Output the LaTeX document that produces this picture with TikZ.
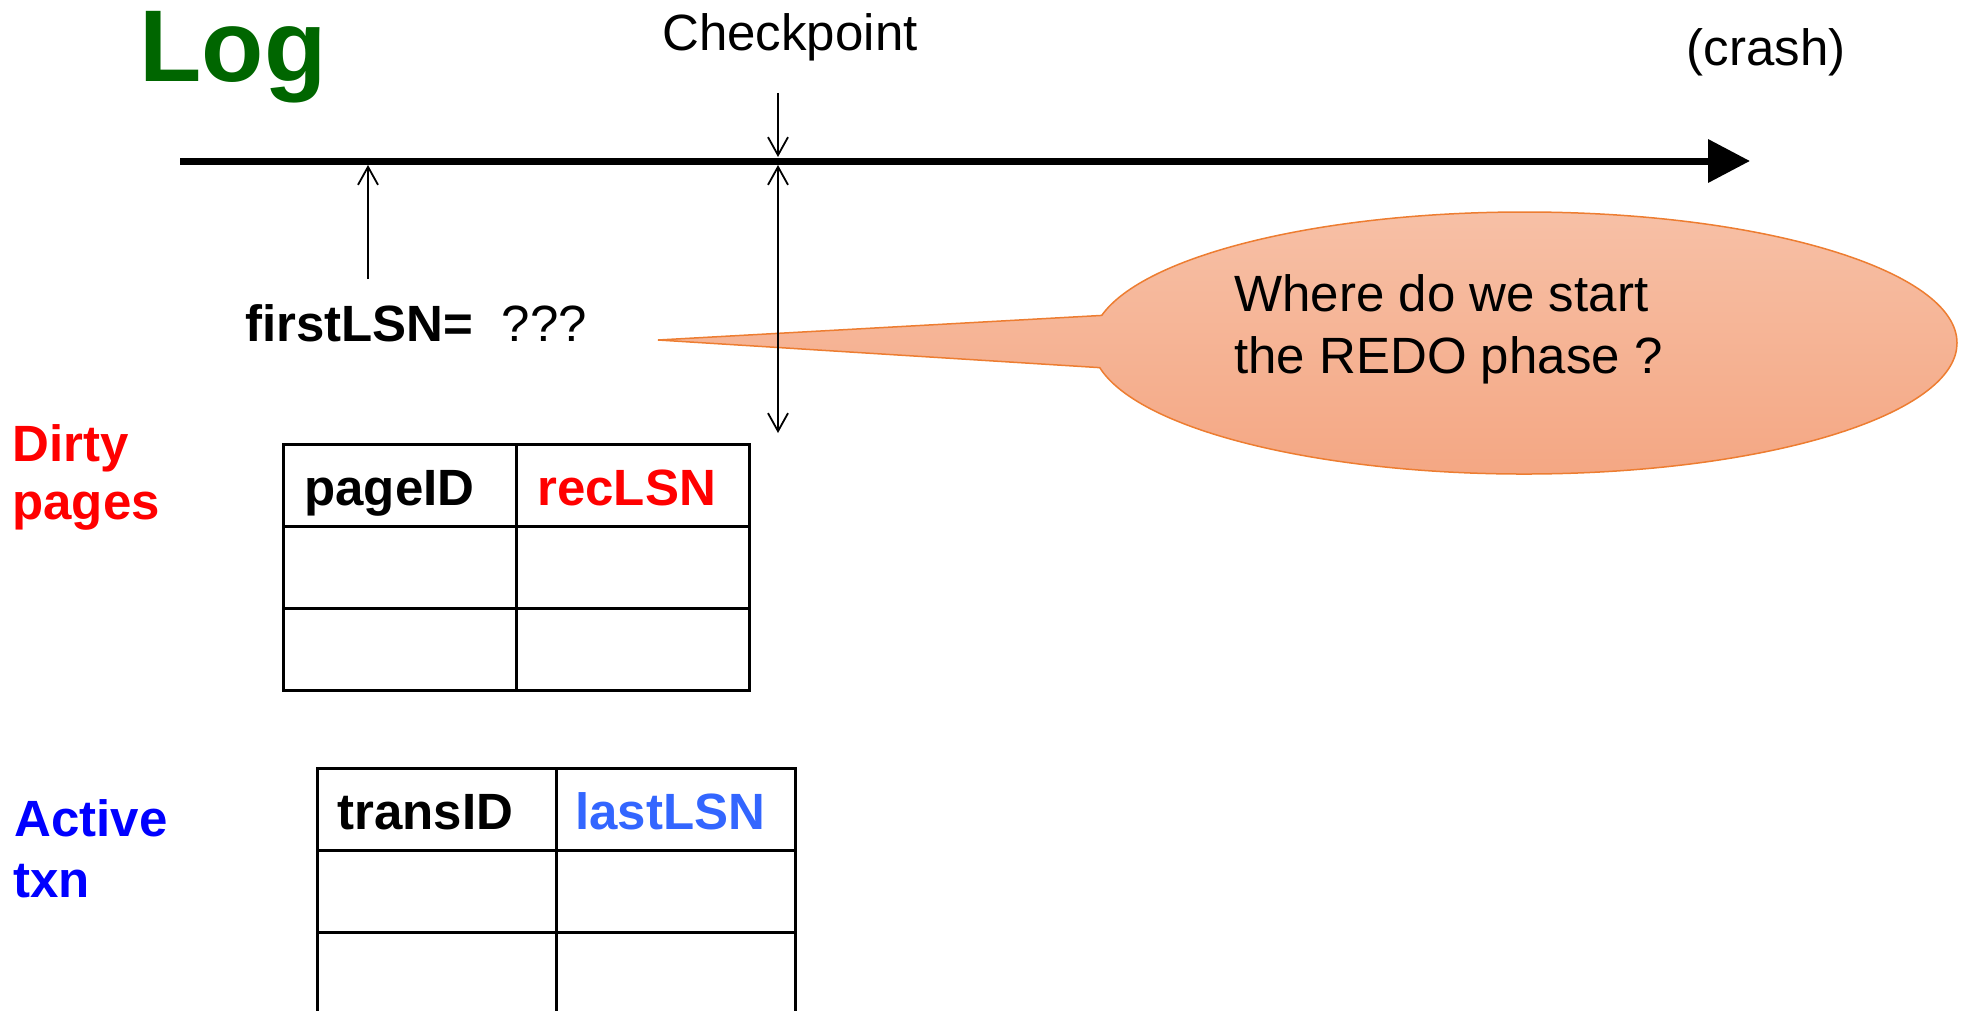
\documentclass[tikz,border=0pt]{standalone}
\usepackage{fontspec}
\setmainfont{Liberation Sans}
\usetikzlibrary{arrows.meta,shapes.callouts}
\definecolor{loggreen}{RGB}{0,102,0}
\definecolor{ctop}{RGB}{247,192,166}
\definecolor{cbot}{RGB}{244,166,130}
\definecolor{cborder}{RGB}{237,125,49}
\definecolor{lightblue}{RGB}{51,102,255}
\tikzset{mybarb/.tip={Straight Barb[length=9pt,width=10pt]}}
\begin{document}
\begin{tikzpicture}[x=0.5pt,y=-0.5pt,
  txt/.style={inner sep=0pt, anchor=base west, font=\fontsize{25.5}{30.6}\selectfont},
  boldtxt/.style={inner sep=0pt, anchor=base west, font=\fontsize{25.5}{30.6}\selectfont\bfseries},
  thinline/.style={line width=0.9pt},
  gridline/.style={line width=1.5pt}]
\useasboundingbox (0,0) rectangle (1969,1011);

% title and labels
\node[inner sep=0pt, anchor=base west, font=\fontsize{51}{60}\selectfont\bfseries, text=loggreen] (log) at (139,82) {Log};
\node[txt, anchor=base] (cp) at (790,51) {Checkpoint};
\node[txt, anchor=base] (crash) at (1766,66) {(crash)};

% log arrow
\coordinate (logstart) at (180,161);
\coordinate (logend) at (1750,161);
\draw[line width=3.5pt, -{Triangle[length=21pt,width=21pt]}] (logstart) -- (logend);

% callout
\coordinate (tip) at (658,340);
\node[ellipse callout, draw=cborder, line width=0.75pt, top color=ctop, bottom color=cbot,
      minimum width=432.5pt, minimum height=131pt, inner sep=0pt,
      callout absolute pointer={(tip)}, callout pointer arc=23] (bubble) at (1524.5,343) {};
\node[txt] (q1) at (1234,311) {Where do we start};
\node[txt] (q2) at (1234,373) {the REDO phase ?};

% firstLSN
\node[txt] (flsn) at (245,341) {\textbf{firstLSN=}\ \ ???};
\coordinate (fa) at (368,279);
\coordinate (fb) at (368,165);
\draw[thinline, -mybarb] (fa) -- (fb);

% checkpoint arrows
\coordinate (ca) at (778,93);
\coordinate (cb) at (778,157);
\coordinate (cc) at (778,165);
\coordinate (cd) at (778,433);
\draw[thinline, -mybarb] (ca) -- (cb);
\draw[thinline, mybarb-mybarb] (cc) -- (cd);

% dirty pages table
\node[boldtxt, text=red] (d1) at (12,461) {Dirty};
\node[boldtxt, text=red] (d2) at (12,519) {pages};
\draw[gridline] (283,444) rectangle (749,690);
\draw[gridline] (283,526) -- (749,526);
\draw[gridline] (283,608) -- (749,608);
\draw[gridline] (516,444) -- (516,690);
\node[boldtxt] (pid) at (304,505) {pageID};
\node[boldtxt, text=red] (rec) at (537,505) {recLSN};

% active txn table
\node[boldtxt, text=blue] (a1) at (14,836) {Active};
\node[boldtxt, text=blue] (a2) at (13,897) {txn};
\draw[gridline] (317,1014) -- (317,768) -- (795,768) -- (795,1014);
\draw[gridline] (317,850) -- (795,850);
\draw[gridline] (317,932) -- (795,932);
\draw[gridline] (556,768) -- (556,1014);
\node[boldtxt] (tid) at (337,829) {transID};
\node[boldtxt, text=lightblue] (last) at (575,829) {lastLSN};
\end{tikzpicture}
\end{document}
